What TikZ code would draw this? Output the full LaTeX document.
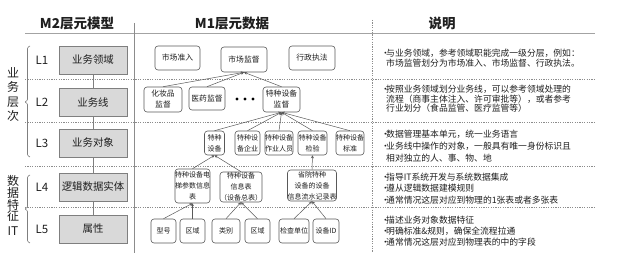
\documentclass[tikz,border=0pt]{standalone}
\usepackage{fontspec}
\setmainfont{Noto Sans CJK SC}
\usetikzlibrary{arrows.meta}
\definecolor{boxfill}{HTML}{D9D9D9}
\definecolor{boxline}{HTML}{7F7F7F}
\definecolor{nodeline}{HTML}{595959}
\definecolor{txt}{HTML}{1F1F1F}
\definecolor{sepc}{HTML}{8C8C8C}
\newcommand\myfs[2]{\fontsize{#1}{#2}\selectfont}
\newcommand\myb{\makebox[5pt][l]{•}}
\newcommand\myi{\hspace*{5pt}}
\begin{document}
\begin{tikzpicture}[x=1pt,y=-1pt,
  m2box/.style={draw=boxline, fill=boxfill, line width=0.8pt, minimum width=68pt, minimum height=28pt, inner sep=0pt, font=\myfs{10.4}{12}, text=txt},
  m1box/.style={draw=nodeline, fill=white, rounded corners=3pt, line width=0.6pt, inner sep=0pt, align=center, text=txt},
  bigt/.style={font=\myfs{7.8}{11}},
  smallt/.style={font=\myfs{7}{11}},
  lvl/.style={font=\myfs{11.5}{13}, text=txt},
  ttl/.style={font=\bfseries\myfs{13.5}{15}, text=txt},
  note/.style={anchor=west, align=left, inner sep=0pt, text=txt},
  arr/.style={draw=nodeline, line width=0.5pt, -{Stealth[length=3pt,width=3pt]}},
  sepline/.style={draw=sepc, line width=0.6pt, dash pattern=on 1.2pt off 1.2pt},
  dotn/.style={circle, fill=black, inner sep=0pt, minimum size=3.4pt},
  ]
\useasboundingbox (0,0) rectangle (643,261);
% titles
\node[ttl] (t1) at (77,23) {M2层元模型};
\node[ttl] (t2) at (232,23) {M1层元数据};
\node[ttl] (t3) at (442,23) {说明};
% frame lines
\draw[draw=sepc!80, line width=1.5pt] (25,33.5) -- (595,33.5);
\draw[draw=sepc, line width=0.8pt] (134,23) -- (134,253);
\draw[sepline] (372,20) -- (372,252);
\foreach \yy in {79,122,166,207} \draw[sepline] (25,\yy) -- (595,\yy);
% M2 boxes
\node[m2box] (L1) at (93,60) {业务领域};
\node[m2box] (L2) at (93,102.5) {业务线};
\node[m2box] (L3) at (93,143) {业务对象};
\node[m2box] (L4) at (93,187) {逻辑数据实体};
\node[m2box] (L5) at (93,229) {属性};
\draw[draw=boxline, line width=0.8pt] (L1) -- (L2);
\draw[draw=boxline, line width=0.8pt] (L2) -- (L3);
\draw[draw=boxline, line width=0.8pt] (L3) -- (L4);
\draw[draw=boxline, line width=0.8pt] (L4) -- (L5);
% level labels
\node[lvl] (l1) at (42,60) {L1};
\node[lvl] (l2) at (42,102.5) {L2};
\node[lvl] (l3) at (42,143) {L3};
\node[lvl] (l4) at (42,187) {L4};
\node[lvl] (l5) at (42,229) {L5};
% group labels
\node[font=\myfs{12}{14.5}, align=center, text=txt, inner sep=0pt] (g1) at (13,94.5) {业\\务\\层\\次};
\node[font=\myfs{12}{11.8}, align=center, text=txt, inner sep=0pt] (g2) at (13,205.5) {数\\据\\特\\征\\[3pt]IT};
\draw[draw=boxline, line width=0.6pt, rounded corners=1pt] (30,46) -- (27.5,47.5) -- (27.5,100.5) -- (24.5,102) -- (27.5,103.5) -- (27.5,155.5) -- (30,157);
\draw[draw=boxline, line width=0.6pt, rounded corners=1pt] (30,175) -- (27.5,176.5) -- (27.5,207.5) -- (24.5,209) -- (27.5,210.5) -- (27.5,241.5) -- (30,243);
% M1 row 1
\node[m1box, bigt, minimum width=45pt, minimum height=24pt] (a1) at (177.5,58) {市场准入};
\node[m1box, bigt, minimum width=46pt, minimum height=25pt] (a2) at (244,59.5) {市场监督};
\node[m1box, bigt, minimum width=46pt, minimum height=24pt] (a3) at (312,58) {行政执法};
% row 2
\node[m1box, bigt, minimum width=38pt, minimum height=25pt] (b1) at (163,99.5) {化妆品\\监督};
\node[m1box, bigt, minimum width=36pt, minimum height=23pt] (b2) at (207,98.5) {医药监督};
\node[dotn] (dot1) at (237,99) {};
\node[dotn] (dot2) at (245,99) {};
\node[dotn] (dot3) at (253,99) {};
\node[m1box, bigt, minimum width=37pt, minimum height=25pt] (b3) at (281.5,99.5) {特种设备\\监督};
% row 3
\node[m1box, smallt, minimum width=20pt, minimum height=24pt] (c1) at (214.5,143) {特种\\设备};
\node[m1box, smallt, minimum width=25pt, minimum height=24pt] (c2) at (247.5,143) {特种设\\备企业};
\node[m1box, smallt, minimum width=28pt, minimum height=24pt] (c3) at (279,143) {特种设备\\作业人员};
\node[m1box, smallt, minimum width=29pt, minimum height=24pt] (c4) at (312.5,143) {特种设备\\检验};
\node[m1box, smallt, minimum width=26pt, minimum height=24pt] (c5) at (350,143) {特种设备\\标准};
% row 4
\node[m1box, smallt, minimum width=33pt, minimum height=34pt] (d1) at (192.5,186) {特种设备电\\梯参数信息\\表};
\node[m1box, smallt, minimum width=40pt, minimum height=30pt] (d2) at (241,187) {特种设备\\信息表\\（设备总表）};
\node[m1box, smallt, minimum width=40pt, minimum height=31pt] (d3) at (312,185.5) {省院特种\\设备的设备\\信息流水记录表};
% row 5
\node[m1box, smallt, minimum width=25pt, minimum height=24pt] (e1) at (163.5,231) {型号};
\node[m1box, smallt, minimum width=25pt, minimum height=24pt] (e2) at (192.5,231) {区域};
\node[m1box, smallt, minimum width=28pt, minimum height=24pt] (e3) at (226,231) {类别};
\node[m1box, smallt, minimum width=25pt, minimum height=24pt] (e4) at (257.5,231) {区域};
\node[m1box, smallt, minimum width=30pt, minimum height=24pt] (e5) at (294,231) {检查单位};
\node[m1box, smallt, minimum width=26pt, minimum height=24pt] (e6) at (326,231) {设备ID};
% arrows
\draw[arr] (b1.north) -- (a2.south);
\draw[arr] (b2.north) -- (a2.south);
\draw[arr] (b3.north) -- (a2.south);
\draw[arr] (c1.north) -- (b3.south);
\draw[arr] (c2.north) -- (b3.south);
\draw[arr] (c3.north) -- (b3.south);
\draw[arr] (c4.north) -- (b3.south);
\draw[arr] (c5.north) -- (b3.south);
\draw[arr] (d1.north) -- (c1.south);
\draw[arr] (d2.north) -- (c1.south);
\draw[arr] (d3.north) -- (c4.south);
\draw[arr] (e1.north) -- (d1.south);
\draw[arr] (e2.north) -- (d1.south);
\draw[arr] (e3.north) -- (d2.south);
\draw[arr] (e4.north) -- (d2.south);
\draw[arr] (e5.north) -- (d3.south);
\draw[arr] (e6.north) -- (d3.south);
% notes
\node[note, font=\myfs{8.8}{10.5}] (n1) at (381,58) {\myb 与业务领域，参考领域职能完成一级分层，例如：\\\myi 市场监管划分为市场准入、市场监督、行政执法。};
\node[note, font=\myfs{8.8}{9.8}] (n2) at (381,98.8) {\myb 按照业务领域划分业务线，可以参考领域处理的\\\myi 流程（商事主体注入、许可审批等），或者参考\\\myi 行业划分（食品监管、医疗监管等）};
\node[note, font=\myfs{8.8}{12}] (n3) at (381,146) {\myb 数据管理基本单元，统一业务语言\\\myb 业务线中操作的对象，一般具有唯一身份标识且\\\myi 相对独立的人、事、物、地};
\node[note, font=\myfs{8.8}{11.5}] (n4) at (381,188.5) {\myb 指导IT系统开发与系统数据集成\\\myb 遵从逻辑数据建模规则\\\myb 通常情况这层对应到物理的1张表或者多张表};
\node[note, font=\myfs{8.8}{11}] (n5) at (381,231) {\myb 描述业务对象数据特征\\\myb 明确标准\&规则，确保全流程拉通\\\myb 通常情况这层对应到物理表的中的字段};
\end{tikzpicture}
\end{document}
